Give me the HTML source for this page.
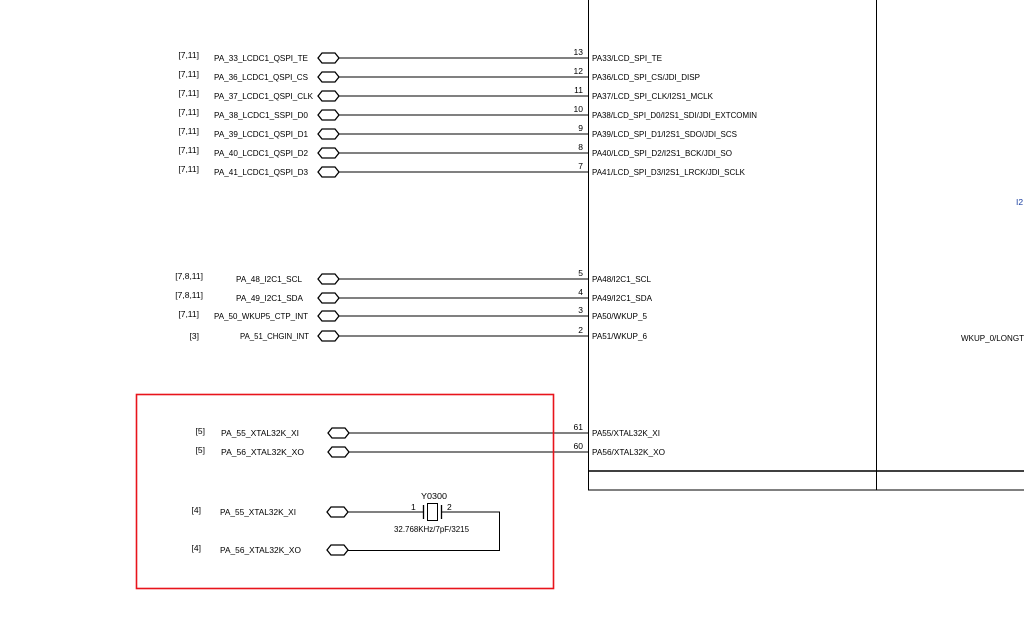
<!DOCTYPE html>
<html><head><meta charset="utf-8"><style>
html,body{margin:0;padding:0;background:#fff;}
svg{display:block;}
text{font-family:"Liberation Sans",sans-serif;font-size:8.5px;fill:#000;}
</style></head><body>
<svg width="1024" height="619" viewBox="0 0 1024 619" xmlns="http://www.w3.org/2000/svg">
<defs>
<polygon id="hx" points="0,0 4,-5 17,-5 21,0 17,5 4,5" fill="#fff" stroke="#000" stroke-width="1.3"/>
</defs>
<g stroke="#000" stroke-width="1" fill="none">
<line x1="588.5" y1="0" x2="588.5" y2="490"/>
<line x1="876.5" y1="0" x2="876.5" y2="490"/>
<line x1="588" y1="471" x2="1024" y2="471" stroke-width="1.6"/>
<line x1="588" y1="490" x2="1024" y2="490"/>
</g>
<g stroke="#000" stroke-width="1">
<line x1="339" y1="58" x2="588" y2="58"/>
<line x1="339" y1="77" x2="588" y2="77"/>
<line x1="339" y1="96" x2="588" y2="96"/>
<line x1="339" y1="115" x2="588" y2="115"/>
<line x1="339" y1="134" x2="588" y2="134"/>
<line x1="339" y1="153" x2="588" y2="153"/>
<line x1="339" y1="172" x2="588" y2="172"/>
<line x1="339" y1="279" x2="588" y2="279"/>
<line x1="339" y1="298" x2="588" y2="298"/>
<line x1="339" y1="316" x2="588" y2="316"/>
<line x1="339" y1="336" x2="588" y2="336"/>
<line x1="349" y1="433" x2="588" y2="433"/>
<line x1="349" y1="452" x2="588" y2="452"/>
</g>
<use href="#hx" x="318" y="58"/><use href="#hx" x="318" y="77"/><use href="#hx" x="318" y="96"/>
<use href="#hx" x="318" y="115"/><use href="#hx" x="318" y="134"/><use href="#hx" x="318" y="153"/>
<use href="#hx" x="318" y="172"/><use href="#hx" x="318" y="279"/><use href="#hx" x="318" y="298"/>
<use href="#hx" x="318" y="316"/><use href="#hx" x="318" y="336"/>
<use href="#hx" x="328" y="433"/><use href="#hx" x="328" y="452"/>
<use href="#hx" x="327" y="512"/><use href="#hx" x="327" y="550"/>
<g text-anchor="end">
<text x="199" y="58">[7,11]</text><text x="308" y="61" textLength="94" lengthAdjust="spacingAndGlyphs">PA_33_LCDC1_QSPI_TE</text>
<text x="199" y="77">[7,11]</text><text x="308" y="80" textLength="94" lengthAdjust="spacingAndGlyphs">PA_36_LCDC1_QSPI_CS</text>
<text x="199" y="96">[7,11]</text><text x="313" y="99" textLength="99" lengthAdjust="spacingAndGlyphs">PA_37_LCDC1_QSPI_CLK</text>
<text x="199" y="115">[7,11]</text><text x="308" y="118" textLength="94" lengthAdjust="spacingAndGlyphs">PA_38_LCDC1_SSPI_D0</text>
<text x="199" y="134">[7,11]</text><text x="308" y="137" textLength="94" lengthAdjust="spacingAndGlyphs">PA_39_LCDC1_QSPI_D1</text>
<text x="199" y="153">[7,11]</text><text x="308" y="156" textLength="94" lengthAdjust="spacingAndGlyphs">PA_40_LCDC1_QSPI_D2</text>
<text x="199" y="172">[7,11]</text><text x="308" y="175" textLength="94" lengthAdjust="spacingAndGlyphs">PA_41_LCDC1_QSPI_D3</text>
<text x="203" y="279">[7,8,11]</text><text x="302" y="282" textLength="66" lengthAdjust="spacingAndGlyphs">PA_48_I2C1_SCL</text>
<text x="203" y="298">[7,8,11]</text><text x="303" y="301" textLength="67" lengthAdjust="spacingAndGlyphs">PA_49_I2C1_SDA</text>
<text x="199" y="317">[7,11]</text><text x="308" y="319" textLength="94" lengthAdjust="spacingAndGlyphs">PA_50_WKUP5_CTP_INT</text>
<text x="199" y="339">[3]</text><text x="309" y="339" textLength="69" lengthAdjust="spacingAndGlyphs">PA_51_CHGIN_INT</text>
<text x="205" y="434">[5]</text><text x="299" y="436" textLength="78" lengthAdjust="spacingAndGlyphs">PA_55_XTAL32K_XI</text>
<text x="205" y="453">[5]</text><text x="304" y="455" textLength="83" lengthAdjust="spacingAndGlyphs">PA_56_XTAL32K_XO</text>
<text x="201" y="513">[4]</text><text x="296" y="515" textLength="76" lengthAdjust="spacingAndGlyphs">PA_55_XTAL32K_XI</text>
<text x="201" y="551">[4]</text><text x="301" y="553" textLength="81" lengthAdjust="spacingAndGlyphs">PA_56_XTAL32K_XO</text>
<text x="583" y="55">13</text><text x="583" y="74">12</text><text x="583" y="93">11</text><text x="583" y="112">10</text>
<text x="583" y="131">9</text><text x="583" y="150">8</text><text x="583" y="169">7</text>
<text x="583" y="276">5</text><text x="583" y="295">4</text><text x="583" y="313">3</text><text x="583" y="333">2</text>
<text x="583" y="430">61</text><text x="583" y="449">60</text>
</g>
<g>
<text x="592" y="61" textLength="70" lengthAdjust="spacingAndGlyphs">PA33/LCD_SPI_TE</text>
<text x="592" y="80" textLength="108" lengthAdjust="spacingAndGlyphs">PA36/LCD_SPI_CS/JDI_DISP</text>
<text x="592" y="99" textLength="121" lengthAdjust="spacingAndGlyphs">PA37/LCD_SPI_CLK/I2S1_MCLK</text>
<text x="592" y="118" textLength="165" lengthAdjust="spacingAndGlyphs">PA38/LCD_SPI_D0/I2S1_SDI/JDI_EXTCOMIN</text>
<text x="592" y="137" textLength="145" lengthAdjust="spacingAndGlyphs">PA39/LCD_SPI_D1/I2S1_SDO/JDI_SCS</text>
<text x="592" y="156" textLength="140" lengthAdjust="spacingAndGlyphs">PA40/LCD_SPI_D2/I2S1_BCK/JDI_SO</text>
<text x="592" y="175" textLength="153" lengthAdjust="spacingAndGlyphs">PA41/LCD_SPI_D3/I2S1_LRCK/JDI_SCLK</text>
<text x="592" y="282" textLength="59" lengthAdjust="spacingAndGlyphs">PA48/I2C1_SCL</text>
<text x="592" y="301" textLength="60" lengthAdjust="spacingAndGlyphs">PA49/I2C1_SDA</text>
<text x="592" y="319" textLength="55" lengthAdjust="spacingAndGlyphs">PA50/WKUP_5</text>
<text x="592" y="339" textLength="55" lengthAdjust="spacingAndGlyphs">PA51/WKUP_6</text>
<text x="592" y="436" textLength="68" lengthAdjust="spacingAndGlyphs">PA55/XTAL32K_XI</text>
<text x="592" y="455" textLength="73" lengthAdjust="spacingAndGlyphs">PA56/XTAL32K_XO</text>
<text x="961" y="341" textLength="63" lengthAdjust="spacingAndGlyphs">WKUP_0/LONGT</text>
<text x="1016" y="205" style="fill:#1a3fa0">I2</text>
<text x="421" y="499" textLength="26" lengthAdjust="spacingAndGlyphs">Y0300</text>
<text x="394" y="532" textLength="75" lengthAdjust="spacingAndGlyphs">32.768KHz/7pF/3215</text>
<text x="411" y="510">1</text><text x="447" y="510">2</text>
</g>
<g stroke="#000" stroke-width="1" fill="none">
<line x1="348" y1="512" x2="423" y2="512"/>
<line x1="423.5" y1="505" x2="423.5" y2="519" stroke-width="1.3"/>
<rect x="427.5" y="503.5" width="10" height="17"/>
<line x1="441.5" y1="505" x2="441.5" y2="519" stroke-width="1.3"/>
<polyline points="442,512 499.5,512 499.5,550.5 348,550.5"/>
</g>
<rect x="136.5" y="394.5" width="417" height="194" fill="none" stroke="#e8141c" stroke-width="1.6"/>
</svg>
</body></html>
